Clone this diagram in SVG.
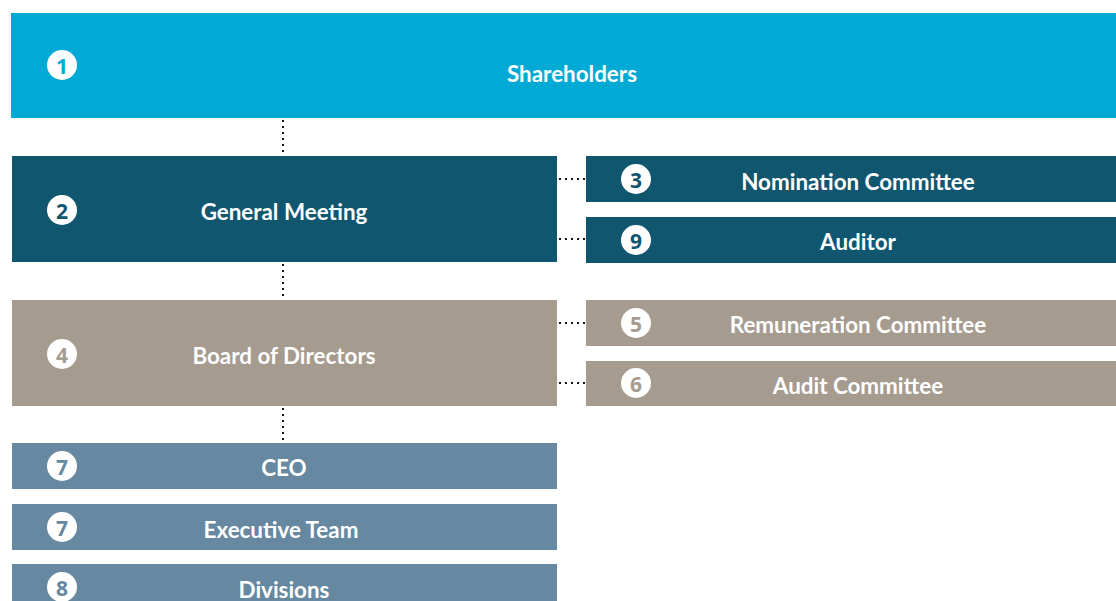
<svg xmlns="http://www.w3.org/2000/svg" width="1116" height="601" viewBox="0 0 1116 601">
<style>
.t{font-family:Lato,"Open Sans",sans-serif;font-weight:700;font-size:22.4px;fill:#fff;text-anchor:middle;dominant-baseline:central}
.n{font-family:"Open Sans",Lato,sans-serif;font-weight:700;font-size:21px;text-anchor:middle;dominant-baseline:central}
.c{fill:#fff}
.dot{stroke:#111;stroke-width:2;stroke-dasharray:2 4;fill:none}
.a{fill:#00aad4}.b{fill:#10566f}.g{fill:#a69b8f}.s{fill:#6688a0}
</style>
<rect width="1116" height="601" fill="#fff"/>
<g id="connectors">
<line class="dot" x1="283" y1="120" x2="283" y2="156"/>
<line class="dot" x1="283" y1="264" x2="283" y2="300"/>
<line class="dot" x1="283" y1="408" x2="283" y2="443"/>
<line class="dot" x1="559" y1="179" x2="586" y2="179"/>
<line class="dot" x1="559" y1="239" x2="586" y2="239"/>
<line class="dot" x1="559" y1="323" x2="586" y2="323"/>
<line class="dot" x1="559" y1="383" x2="586" y2="383"/>
</g>
<g id="shareholders"><rect class="a" x="11" y="13" width="1105" height="105"/><circle class="c" cx="62" cy="65" r="15"/><text class="n a" x="62" y="66">1</text><text class="t" x="572" y="73">Shareholders</text></g>
<g id="general-meeting"><rect class="b" x="12" y="156" width="545" height="106"/><circle class="c" cx="62" cy="210" r="15"/><text class="n b" x="62" y="211">2</text><text class="t" x="284" y="211">General Meeting</text></g>
<g id="nomination"><rect class="b" x="586" y="156" width="530" height="46"/><circle class="c" cx="636" cy="179" r="15"/><text class="n b" x="636" y="180">3</text><text class="t" x="858" y="181">Nomination Committee</text></g>
<g id="auditor"><rect class="b" x="586" y="217" width="530" height="46"/><circle class="c" cx="636" cy="240" r="15"/><text class="n b" x="636" y="241">9</text><text class="t" x="858" y="241">Auditor</text></g>
<g id="board"><rect class="g" x="12" y="300" width="545" height="106"/><circle class="c" cx="62" cy="354" r="15"/><text class="n g" x="62" y="355">4</text><text class="t" x="284" y="355">Board of Directors</text></g>
<g id="remuneration"><rect class="g" x="586" y="300" width="530" height="46"/><circle class="c" cx="636" cy="323" r="15"/><text class="n g" x="636" y="324">5</text><text class="t" x="858" y="324">Remuneration Committee</text></g>
<g id="audit"><rect class="g" x="586" y="361" width="530" height="45"/><circle class="c" cx="636" cy="383" r="15"/><text class="n g" x="636" y="384">6</text><text class="t" x="858" y="385">Audit Committee</text></g>
<g id="ceo"><rect class="s" x="12" y="443" width="545" height="46"/><circle class="c" cx="62" cy="466" r="15"/><text class="n s" x="62" y="467">7</text><text class="t" x="284" y="467">CEO</text></g>
<g id="executive"><rect class="s" x="12" y="504" width="545" height="46"/><circle class="c" cx="62" cy="527" r="15"/><text class="n s" x="62" y="528">7</text><text class="t" x="281" y="529">Executive Team</text></g>
<g id="divisions"><rect class="s" x="12" y="564" width="545" height="46"/><circle class="c" cx="62" cy="587" r="15"/><text class="n s" x="62" y="588">8</text><text class="t" x="284" y="589">Divisions</text></g>
</svg>
